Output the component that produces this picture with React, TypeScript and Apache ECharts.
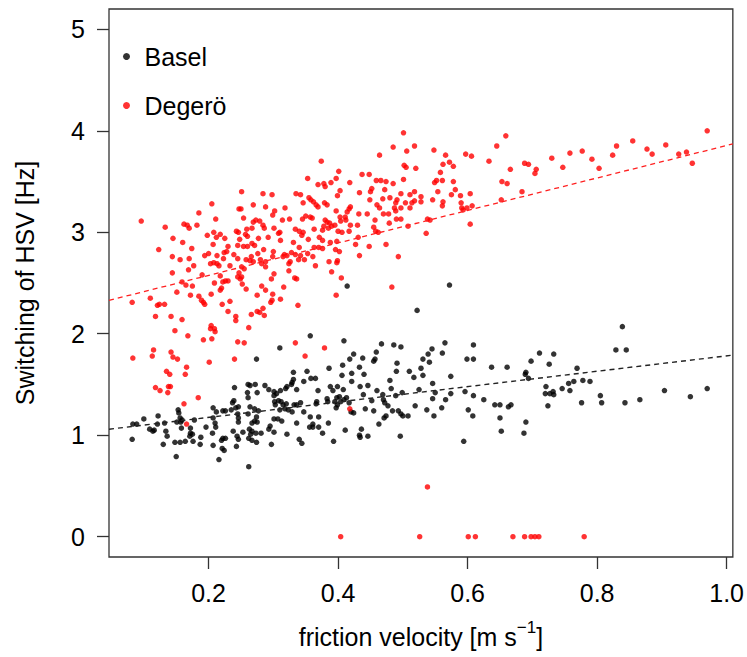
import React, { useEffect, useRef } from "react";
import * as echarts from "echarts";

// Friction velocity [m s-1] vs switching of HSV [Hz]
const basel: [number, number][] = [
  [0.240,1.47],[0.261,1.50],[0.260,1.42],[0.261,1.37],[0.239,1.34],[0.237,1.32],[0.246,1.28],[0.242,1.27],[0.153,1.25],[0.154,1.22],
  [0.207,1.27],[0.222,1.24],[0.226,1.24],[0.235,1.25],[0.212,1.23],[0.100,1.16],[0.122,1.19],[0.156,1.17],[0.159,1.15],[0.157,1.13],
  [0.178,1.15],[0.207,1.17],[0.245,1.21],[0.246,1.17],[0.261,1.21],[0.083,1.11],[0.089,1.11],[0.109,1.06],[0.114,1.04],[0.116,1.05],
  [0.121,1.11],[0.132,1.12],[0.151,1.13],[0.196,1.08],[0.210,1.12],[0.211,1.08],[0.246,1.13],[0.267,1.12],[0.263,1.06],[0.267,1.04],
  [0.265,1.01],[0.158,1.07],[0.172,1.07],[0.172,1.02],[0.171,0.99],[0.175,1.01],[0.134,1.04],[0.136,0.99],[0.206,1.02],[0.238,1.04],
  [0.253,1.03],[0.188,0.98],[0.222,0.97],[0.226,0.97],[0.220,0.95],[0.082,0.96],[0.246,0.96],[0.244,0.99],[0.262,0.97],[0.267,0.95],
  [0.148,0.93],[0.156,0.93],[0.164,0.94],[0.176,0.94],[0.130,0.91],[0.187,0.91],[0.207,0.90],[0.221,0.87],[0.224,0.85],[0.243,0.89],
  [0.150,0.79],[0.216,0.76],[0.262,0.69],
  [0.357,1.98],[0.409,1.93],[0.310,1.86],[0.467,1.90],[0.486,1.89],[0.497,1.87],[0.274,1.75],[0.424,1.80],[0.418,1.75],[0.459,1.82],
  [0.457,1.75],[0.455,1.73],[0.438,1.76],[0.491,1.71],[0.407,1.69],[0.433,1.67],[0.386,1.66],[0.352,1.63],[0.331,1.62],[0.421,1.61],
  [0.406,1.59],[0.440,1.60],[0.490,1.63],[0.510,1.63],[0.358,1.56],[0.365,1.56],[0.331,1.55],[0.329,1.52],[0.328,1.50],[0.321,1.48],
  [0.319,1.46],[0.347,1.53],[0.421,1.53],[0.480,1.54],[0.264,1.49],[0.272,1.50],[0.287,1.49],[0.293,1.45],[0.301,1.43],[0.305,1.41],
  [0.311,1.44],[0.336,1.45],[0.369,1.44],[0.388,1.48],[0.399,1.48],[0.392,1.44],[0.408,1.45],[0.434,1.48],[0.446,1.49],[0.460,1.44],
  [0.482,1.46],[0.499,1.42],[0.275,1.42],[0.301,1.39],[0.302,1.33],[0.303,1.30],[0.308,1.34],[0.312,1.33],[0.315,1.30],[0.320,1.31],
  [0.332,1.30],[0.336,1.30],[0.342,1.32],[0.367,1.33],[0.366,1.31],[0.383,1.36],[0.384,1.33],[0.398,1.37],[0.402,1.38],[0.395,1.33],
  [0.404,1.33],[0.399,1.30],[0.397,1.27],[0.409,1.35],[0.413,1.37],[0.417,1.32],[0.439,1.40],[0.452,1.34],[0.469,1.40],[0.470,1.35],
  [0.472,1.32],[0.477,1.29],[0.489,1.39],[0.264,1.28],[0.271,1.26],[0.277,1.24],[0.310,1.25],[0.318,1.26],[0.323,1.25],[0.329,1.23],
  [0.442,1.26],[0.455,1.24],[0.484,1.24],[0.493,1.24],[0.420,1.23],[0.424,1.22],[0.347,1.23],[0.274,1.18],[0.271,1.14],[0.275,1.13],
  [0.301,1.16],[0.307,1.16],[0.313,1.14],[0.357,1.18],[0.370,1.18],[0.474,1.19],[0.471,1.17],[0.500,1.19],[0.508,1.19],[0.497,1.21],
  [0.336,1.12],[0.361,1.11],[0.385,1.12],[0.463,1.11],[0.273,1.02],[0.295,1.09],[0.293,1.06],[0.281,1.02],[0.301,1.03],[0.356,1.08],
  [0.361,1.08],[0.370,1.08],[0.376,1.02],[0.411,1.05],[0.436,1.06],[0.433,1.00],[0.434,0.98],[0.446,0.99],[0.496,0.99],[0.321,1.01],
  [0.340,0.96],[0.344,0.92],[0.274,0.93],[0.297,0.91],[0.393,0.94],
  [0.522,2.23],[0.565,1.91],[0.545,1.85],[0.609,1.89],[0.561,1.81],[0.539,1.80],[0.541,1.72],[0.531,1.75],[0.599,1.75],[0.609,1.75],
  [0.711,1.81],[0.733,1.80],[0.698,1.73],[0.726,1.70],[0.528,1.66],[0.517,1.57],[0.531,1.59],[0.637,1.67],[0.661,1.67],[0.574,1.58],
  [0.690,1.62],[0.689,1.60],[0.694,1.56],[0.546,1.51],[0.525,1.45],[0.550,1.42],[0.574,1.41],[0.596,1.43],[0.609,1.39],[0.546,1.36],
  [0.566,1.35],[0.625,1.35],[0.721,1.48],[0.720,1.41],[0.727,1.41],[0.732,1.43],[0.733,1.40],[0.519,1.29],[0.642,1.30],[0.650,1.30],
  [0.663,1.28],[0.667,1.30],[0.724,1.29],[0.560,1.27],[0.537,1.25],[0.601,1.25],[0.548,1.19],[0.608,1.19],[0.650,1.17],[0.690,1.13],
  [0.652,1.04],[0.687,1.02],[0.594,0.94],[0.572,2.48],[0.414,2.47],
  [0.839,2.07],[0.829,1.84],[0.845,1.84],[0.769,1.66],[0.746,1.46],[0.756,1.51],[0.764,1.53],[0.778,1.54],[0.789,1.53],[0.758,1.44],
  [0.805,1.39],[0.776,1.32],[0.807,1.32],[0.843,1.32],[0.866,1.35],[0.904,1.44],[0.944,1.38],[0.970,1.46],
];

const degero: [number, number][] = [
  [0.251,3.40],[0.205,3.28],[0.269,3.27],[0.247,3.23],[0.250,3.23],[0.185,3.19],[0.254,3.14],[0.211,3.13],[0.096,3.11],[0.162,3.08],
  [0.167,3.07],[0.182,3.07],[0.133,3.05],[0.170,3.04],[0.269,3.10],[0.267,3.04],[0.259,3.03],[0.208,3.00],[0.218,2.98],[0.198,2.97],
  [0.243,3.01],[0.246,3.00],[0.257,2.98],[0.260,2.96],[0.212,2.95],[0.225,2.94],[0.145,2.94],[0.248,2.93],[0.160,2.90],[0.207,2.88],
  [0.230,2.86],[0.267,2.89],[0.271,2.87],[0.245,2.87],[0.254,2.86],[0.260,2.86],[0.123,2.83],[0.174,2.84],[0.224,2.80],[0.228,2.81],
  [0.200,2.79],[0.194,2.77],[0.239,2.78],[0.144,2.76],[0.213,2.77],[0.156,2.73],[0.170,2.74],[0.223,2.74],[0.245,2.74],[0.258,2.73],
  [0.264,2.72],[0.269,2.71],[0.203,2.69],[0.208,2.70],[0.213,2.69],[0.216,2.67],[0.233,2.67],[0.177,2.67],[0.251,2.66],[0.255,2.64],
  [0.169,2.63],[0.144,2.60],[0.247,2.60],[0.190,2.58],[0.218,2.57],[0.245,2.56],[0.251,2.56],[0.159,2.51],[0.165,2.48],[0.222,2.51],
  [0.226,2.52],[0.230,2.52],[0.249,2.54],[0.252,2.49],[0.209,2.50],[0.175,2.47],[0.220,2.45],[0.258,2.44],[0.151,2.41],[0.218,2.43],
  [0.204,2.39],[0.172,2.38],[0.185,2.37],[0.189,2.33],[0.192,2.31],[0.233,2.32],[0.110,2.35],[0.082,2.31],[0.132,2.29],[0.121,2.28],
  [0.124,2.29],[0.194,2.29],[0.221,2.29],[0.266,2.19],[0.230,2.22],[0.118,2.17],[0.142,2.17],[0.159,2.14],[0.242,2.17],[0.242,2.13],
  [0.148,2.03],[0.204,2.08],[0.203,2.05],[0.209,2.05],[0.210,2.02],[0.205,1.95],[0.262,2.06],[0.168,1.98],[0.192,1.94],[0.245,1.92],
  [0.255,1.91],[0.115,1.84],[0.113,1.78],[0.142,1.82],[0.145,1.77],[0.152,1.75],[0.083,1.76],[0.201,1.72],[0.240,1.75],[0.166,1.67],
  [0.164,1.60],[0.135,1.63],[0.140,1.60],[0.118,1.47],[0.125,1.44],[0.138,1.48],[0.141,1.48],[0.137,1.42],[0.184,1.37],[0.162,1.31],
  [0.166,1.11],
  [0.501,3.98],[0.485,3.84],[0.464,3.76],[0.506,3.80],[0.374,3.70],[0.502,3.66],[0.505,3.64],[0.401,3.60],[0.437,3.57],[0.448,3.57],
  [0.353,3.53],[0.501,3.52],[0.459,3.51],[0.466,3.51],[0.474,3.50],[0.397,3.53],[0.418,3.49],[0.389,3.49],[0.378,3.48],[0.369,3.47],
  [0.380,3.45],[0.485,3.48],[0.452,3.43],[0.450,3.40],[0.472,3.42],[0.403,3.41],[0.433,3.39],[0.335,3.38],[0.342,3.37],[0.284,3.38],
  [0.298,3.37],[0.497,3.38],[0.399,3.36],[0.480,3.34],[0.355,3.34],[0.358,3.32],[0.362,3.30],[0.366,3.27],[0.369,3.25],[0.469,3.33],
  [0.449,3.32],[0.491,3.32],[0.489,3.29],[0.346,3.29],[0.379,3.29],[0.383,3.27],[0.288,3.25],[0.460,3.27],[0.464,3.24],[0.470,3.18],
  [0.318,3.24],[0.419,3.25],[0.417,3.23],[0.414,3.20],[0.487,3.24],[0.489,3.21],[0.302,3.21],[0.299,3.17],[0.397,3.21],[0.432,3.18],
  [0.445,3.18],[0.350,3.16],[0.357,3.15],[0.345,3.13],[0.360,3.14],[0.403,3.15],[0.411,3.15],[0.478,3.18],[0.490,3.13],[0.497,3.13],
  [0.314,3.12],[0.325,3.13],[0.273,3.12],[0.279,3.11],[0.457,3.12],[0.380,3.12],[0.383,3.10],[0.387,3.09],[0.390,3.06],[0.385,3.04],
  [0.378,3.06],[0.404,3.11],[0.412,3.12],[0.395,3.07],[0.284,3.07],[0.286,3.04],[0.301,3.04],[0.419,3.07],[0.430,3.07],[0.479,3.09],
  [0.334,3.03],[0.340,3.01],[0.346,3.00],[0.344,2.97],[0.455,3.05],[0.508,3.06],[0.310,3.00],[0.308,2.99],[0.363,3.03],[0.376,3.02],
  [0.458,3.01],[0.462,3.00],[0.400,3.01],[0.406,3.00],[0.417,3.01],[0.277,2.94],[0.292,2.95],[0.331,2.90],[0.354,2.93],[0.371,2.95],
  [0.376,2.92],[0.388,2.90],[0.398,2.91],[0.431,2.95],[0.311,2.92],[0.340,2.85],[0.363,2.85],[0.370,2.85],[0.376,2.84],[0.396,2.83],
  [0.402,2.81],[0.427,2.88],[0.474,2.88],[0.448,2.86],[0.285,2.83],[0.276,2.79],[0.300,2.81],[0.317,2.78],[0.321,2.77],[0.315,2.76],
  [0.328,2.80],[0.353,2.79],[0.361,2.76],[0.334,2.78],[0.342,2.77],[0.266,2.76],[0.433,2.77],[0.493,2.76],[0.299,2.76],[0.280,2.73],
  [0.288,2.71],[0.282,2.69],[0.288,2.66],[0.326,2.71],[0.324,2.69],[0.339,2.73],[0.348,2.73],[0.386,2.71],[0.399,2.72],[0.365,2.67],
  [0.398,2.70],[0.324,2.62],[0.390,2.61],[0.301,2.59],[0.297,2.54],[0.333,2.55],[0.336,2.54],[0.405,2.55],[0.282,2.47],[0.288,2.43],
  [0.316,2.46],[0.483,2.46],[0.275,2.38],[0.299,2.39],[0.298,2.33],[0.296,2.31],[0.311,2.34],[0.397,2.38],[0.338,2.28],[0.284,2.25],
  [0.275,2.22],[0.279,2.21],[0.286,2.18],[0.334,1.91],[0.349,1.78],[0.379,1.86],[0.418,1.26],
  [0.659,3.95],[0.518,3.85],[0.645,3.85],[0.548,3.81],[0.597,3.77],[0.606,3.75],[0.566,3.76],[0.730,3.73],[0.633,3.70],[0.572,3.69],
  [0.562,3.67],[0.578,3.65],[0.688,3.68],[0.694,3.67],[0.520,3.63],[0.666,3.62],[0.706,3.62],[0.704,3.58],[0.558,3.59],[0.552,3.51],
  [0.549,3.49],[0.561,3.51],[0.578,3.50],[0.653,3.50],[0.661,3.48],[0.581,3.42],[0.554,3.40],[0.518,3.40],[0.511,3.37],[0.604,3.38],
  [0.575,3.37],[0.589,3.36],[0.684,3.40],[0.528,3.35],[0.528,3.30],[0.546,3.32],[0.562,3.30],[0.561,3.26],[0.518,3.31],[0.514,3.29],
  [0.511,3.24],[0.504,3.29],[0.590,3.29],[0.591,3.24],[0.593,3.22],[0.652,3.32],[0.599,3.24],[0.607,3.26],[0.497,3.24],[0.538,3.13],
  [0.542,3.12],[0.536,2.99],[0.604,3.08],
  [0.970,4.00],[0.855,3.90],[0.906,3.86],[0.830,3.85],[0.877,3.82],[0.885,3.77],[0.777,3.80],[0.758,3.78],[0.824,3.76],[0.938,3.79],
  [0.926,3.77],[0.792,3.72],[0.947,3.68],[0.747,3.64],[0.803,3.63],
  [0.404,0],[0.526,0],[0.601,0],[0.612,0],[0.670,0],[0.688,0],[0.698,0],[0.704,0],[0.710,0],[0.780,0],[0.538,0.49],
];

// Linear fits (dashed lines): intercept, slope
const baselFit = { intercept: 1.024, slope: 0.758 };
const degeroFit = { intercept: 2.255, slope: 1.6 };

const xTicks = [0.2, 0.4, 0.6, 0.8, 1.0];
const yTicks = [0, 1, 2, 3, 4, 5];
const X_MIN = 0.0462;
const X_MAX = 1.0096;
const Y_MIN = -0.2;
const Y_MAX = 5.2;

const FONT = "'Liberation Sans', Arial, Helvetica, sans-serif";

function fitLine(fit: { intercept: number; slope: number }): [number, number][] {
  return [
    [X_MIN, fit.intercept + fit.slope * X_MIN],
    [X_MAX, fit.intercept + fit.slope * X_MAX],
  ];
}

export default function App() {
  const ref = useRef<HTMLDivElement>(null);
  useEffect(() => {
    if (!ref.current) return;
    const chart = echarts.init(ref.current, null, { renderer: "svg" });
    const axisColor = "#333";
    chart.setOption({
      animation: false,
      backgroundColor: "#fff",
      grid: {
        left: 109,
        right: 14,
        top: 9,
        bottom: 100,
        show: true,
        borderColor: axisColor,
        borderWidth: 1.3,
        backgroundColor: "transparent",
      },
      legend: {
        data: ["Basel", "Degerö"],
        orient: "vertical",
        left: 118,
        top: 39,
        itemWidth: 26,
        itemHeight: 7,
        itemGap: 24,
        icon: "circle",
        textStyle: { fontSize: 25, lineHeight: 25, color: "#000", fontFamily: FONT },
      },
      xAxis: {
        type: "value",
        min: X_MIN,
        max: X_MAX,
        axisLine: { show: false, onZero: false },
        splitLine: { show: false },
        axisTick: {
          show: true,
          length: 12,
          customValues: xTicks,
          lineStyle: { color: axisColor, width: 1.3 },
        },
        axisLabel: {
          customValues: xTicks,
          formatter: (v: number) => v.toFixed(1),
          fontSize: 25,
          lineHeight: 25,
          margin: 23,
          color: "#000",
          fontFamily: FONT,
        },
        name: "{t|friction velocity [m s}{s|−1}{t|]}",
        nameLocation: "middle",
        nameGap: 62,
        nameTextStyle: {
          color: "#000",
          fontFamily: FONT,
          rich: {
            t: { fontSize: 25, fontFamily: FONT, color: "#000" },
            s: { fontSize: 17, fontFamily: FONT, color: "#000", padding: [0, 0, 18, 0] },
          },
        },
      },
      yAxis: {
        type: "value",
        min: Y_MIN,
        max: Y_MAX,
        axisLine: { show: false, onZero: false },
        splitLine: { show: false },
        axisTick: {
          show: true,
          length: 12,
          customValues: yTicks,
          lineStyle: { color: axisColor, width: 1.3 },
        },
        axisLabel: {
          customValues: yTicks,
          formatter: (v: number) => String(Math.round(v)),
          fontSize: 25,
          margin: 24,
          color: "#000",
          fontFamily: FONT,
        },
        name: "Switching of HSV [Hz]",
        nameLocation: "middle",
        nameGap: 72,
        nameTextStyle: { fontSize: 25, lineHeight: 25, color: "#000", fontFamily: FONT },
      },
      series: [
        {
          name: "Basel",
          type: "scatter",
          data: basel,
          symbol: "circle",
          symbolSize: 5.5,
          itemStyle: { color: "#000" },
          z: 2,
        },
        {
          name: "Degerö",
          type: "scatter",
          data: degero,
          symbol: "circle",
          symbolSize: 5.5,
          itemStyle: { color: "#ff0000" },
          z: 3,
        },
        {
          name: "Basel fit",
          type: "line",
          data: fitLine(baselFit),
          showSymbol: false,
          symbol: "none",
          lineStyle: { color: "#222", width: 1.4, type: [5, 4] },
          z: 4,
          silent: true,
        },
        {
          name: "Degerö fit",
          type: "line",
          data: fitLine(degeroFit),
          showSymbol: false,
          symbol: "none",
          lineStyle: { color: "#ff2020", width: 1.3, type: [5, 4] },
          z: 4,
          silent: true,
        },
      ],
    });
    return () => chart.dispose();
  }, []);
  return (
    <div
      ref={ref}
      style={{ position: "fixed", left: 0, top: 0, width: 747, height: 657, background: "#fff" }}
    />
  );
}
